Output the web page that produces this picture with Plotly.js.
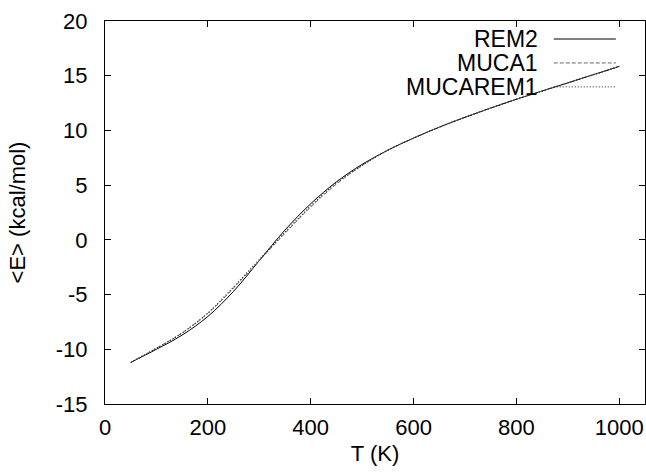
<!DOCTYPE html>
<html>
<head>
<meta charset="utf-8">
<script src="https://cdn.plot.ly/plotly-3.0.1.min.js"></script>
<style>html,body{margin:0;padding:0;background:#fff;}#chart{width:646px;height:474px;}</style>
</head>
<body>
<div id="chart"></div>
<script>
var temperature = [50, 100, 150, 200, 250, 300, 350, 400, 450, 500, 550, 600, 650, 700, 750, 800, 850, 900, 950, 1000];
var rem2 =        [-11.2, -10.0, -8.7, -7.0, -4.7, -1.9, 0.9, 3.3, 5.3, 6.9, 8.2, 9.3, 10.3, 11.2, 12.05, 12.85, 13.6, 14.35, 15.1, 15.85];
var muca1 =       [-11.2, -9.9, -8.5, -6.7, -4.4, -1.9, 0.6, 3.0, 5.1, 6.8, 8.2, 9.3, 10.3, 11.2, 12.05, 12.85, 13.6, 14.35, 15.1, 15.85];
var mucarem1 =    [-11.2, -9.9, -8.5, -6.7, -4.3, -1.8, 0.7, 3.1, 5.2, 6.8, 8.2, 9.3, 10.3, 11.2, 12.05, 12.85, 13.6, 14.35, 15.1, 15.85];
var seriesNames = ["REM2", "MUCA1", "MUCAREM1"];
var xTicks = [0, 200, 400, 600, 800, 1000];
var yTicks = [-15, -10, -5, 0, 5, 10, 15, 20];

var FONT = "Liberation Sans, Arial, sans-serif";
var FS = 22;
var styles = [
  {color: "#000000", dash: "solid", width: 1},
  {color: "#666666", dash: "4px,2px", width: 1},
  {color: "#222222", dash: "1px,2px", width: 1.2}
];
var ys = [rem2, muca1, mucarem1];

var traces = ys.map(function (y, i) {
  return {
    x: temperature, y: y, type: "scatter", mode: "lines",
    name: seriesNames[i], line: {color: styles[i].color, dash: styles[i].dash, width: styles[i].width, shape: "spline", smoothing: 1},
    showlegend: false
  };
});

// legend drawn with annotations (text left of the sample) and paper-space sample lines
var annotations = [];
var shapes = [];
var legTop = 0.953, legStep = 0.0625;
seriesNames.forEach(function (n, i) {
  var yy = legTop - i * legStep;
  annotations.push({
    xref: "paper", yref: "paper", x: 0.806, y: yy, xanchor: "right", yanchor: "middle",
    text: n, showarrow: false, font: {family: FONT, size: 23, color: "#000"}
  });
  shapes.push({
    type: "line", xref: "paper", yref: "paper", x0: 0.831, x1: 0.946, y0: yy, y1: yy,
    line: {color: styles[i].color, dash: styles[i].dash, width: 1}
  });
});

var axisCommon = {
  showgrid: false, zeroline: false, showline: true, linecolor: "#000", linewidth: 1,
  mirror: "ticks", ticks: "inside", ticklen: 6, tickcolor: "#000", tickwidth: 1,
  tickfont: {family: FONT, size: FS, color: "#000"}
};

var layout = {
  width: 646, height: 474,
  margin: {l: 105, r: 1, t: 21, b: 70},
  paper_bgcolor: "#fff", plot_bgcolor: "#fff",
  font: {family: FONT, color: "#000"},
  xaxis: Object.assign({}, axisCommon, {
    range: [0, 1050], tickvals: xTicks, ticktext: xTicks.map(String), ticklabelstandoff: 4,
    title: {text: "T (K)", font: {family: FONT, size: FS, color: "#000"}, standoff: 6}
  }),
  yaxis: Object.assign({}, axisCommon, {
    range: [-15, 20], tickvals: yTicks, ticktext: yTicks.map(String), ticklabelstandoff: 12,
    title: {text: "&lt;E&gt; (kcal/mol)", font: {family: FONT, size: FS, color: "#000"}, standoff: 24}
  }),
  annotations: annotations,
  shapes: shapes,
  showlegend: false
};

Plotly.newPlot("chart", traces, layout, {staticPlot: true, displayModeBar: false});
</script>
</body>
</html>
